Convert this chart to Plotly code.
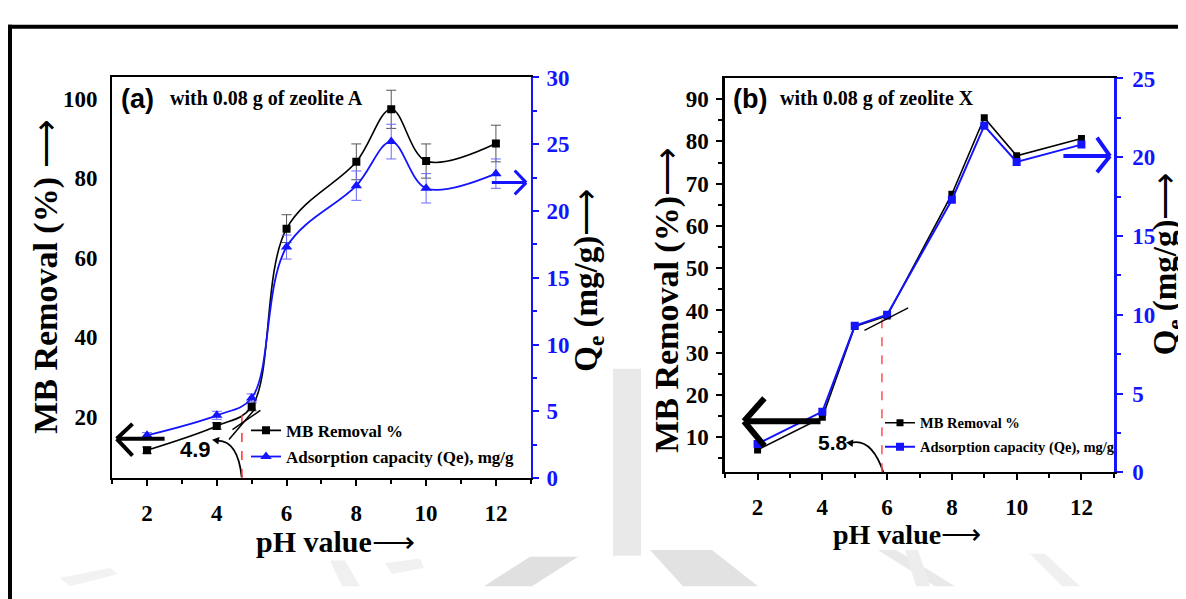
import plotly.graph_objects as go

W, H = 1186, 599
OFF = 8  # the page body places the figure 8px from the top-left corner


def px(x):
    return (x - OFF) / W


def py(y):
    return 1 - (y - OFF) / H


# ---------------- data ----------------
pH = [2, 4, 5, 6, 8, 9, 10, 12]
# panel (a) zeolite A
mb_a = [11.6, 17.7, 22.5, 67.3, 84.1, 97.3, 84.3, 88.7]
mb_a_err = [0.8, 0.8, 1.0, 3.5, 4.5, 4.8, 4.3, 4.6]
qe_a = [3.2, 4.7, 6.0, 17.3, 21.9, 25.2, 21.7, 22.8]
qe_a_err = [0.2, 0.3, 0.3, 0.9, 1.1, 1.3, 1.1, 1.1]
# panel (b) zeolite X
mb_b = [7.0, 14.7, 36.2, 38.7, 67.5, 85.6, 76.6, 80.7]
qe_b = [1.8, 3.85, 9.3, 10.0, 17.3, 22.0, 19.7, 20.8]

pzc_a, pzc_a_label = 4.72, "4.9"
pzc_b, pzc_b_label = 5.84, "5.8"

x_ticks = [2, 4, 6, 8, 10, 12]
mb_a_ticks = [20, 40, 60, 80, 100]
mb_b_ticks = [10, 20, 30, 40, 50, 60, 70, 80, 90]

BLUE = "#1414ff"
SERIF = "Liberation Serif"
SANS = "Liberation Sans"
ARROW = "<span style='font-weight:normal'>\u27f6</span>"

fig = go.Figure()

fig.add_trace(go.Scatter(
    x=pH, y=mb_a, name="MB Removal %", mode="lines+markers",
    line=dict(color="black", width=1.6, shape="spline", smoothing=1.0),
    marker=dict(symbol="square", size=8, color="black"),
    error_y=dict(type="data", array=mb_a_err, color="#555555", thickness=1, width=5),
    xaxis="x", yaxis="y", legend="legend", showlegend=True))
fig.add_trace(go.Scatter(
    x=pH, y=qe_a, name="Adsorption capacity (Qe), mg/g", mode="lines+markers",
    line=dict(color=BLUE, width=1.8, shape="spline", smoothing=1.0),
    marker=dict(symbol="triangle-up", size=10, color=BLUE),
    error_y=dict(type="data", array=qe_a_err, color="#6a6aff", thickness=1, width=5),
    xaxis="x", yaxis="y2", legend="legend2", showlegend=True))
fig.add_trace(go.Scatter(
    x=pH, y=mb_b, name="MB Removal %", mode="lines+markers",
    line=dict(color="black", width=1.6),
    marker=dict(symbol="square", size=7, color="black"),
    xaxis="x2", yaxis="y3", legend="legend3", showlegend=True))
fig.add_trace(go.Scatter(
    x=pH, y=qe_b, name="Adsorption capacity (Qe), mg/g", mode="lines+markers",
    line=dict(color=BLUE, width=2),
    marker=dict(symbol="square", size=8, color=BLUE),
    xaxis="x2", yaxis="y4", legend="legend4", showlegend=True))

tickfont = dict(family=SERIF, size=23, color="black", weight="bold")
btickfont = dict(family=SERIF, size=23, color=BLUE, weight="bold")

dom_a_x = [px(112.1), px(530.8)]
dom_a_y = [py(486), py(68)]
dom_b_x = [px(725.2), px(1113.8)]
dom_b_y = [py(480), py(69)]

common_x = dict(range=[1, 13], tickvals=x_ticks, ticks="outside", ticklen=6, tickwidth=1.5,
                tickcolor="black", showline=True, linecolor="black", linewidth=2,
                mirror=True, showgrid=False, zeroline=False, tickfont=tickfont,
                minor=dict(dtick=1, ticks="outside", ticklen=4, tickcolor="black"),
                ticklabelstandoff=7)

fig.update_layout(
    width=W, height=H, autosize=False, showlegend=True,
    margin=dict(l=0, r=0, t=0, b=0),
    paper_bgcolor="white", plot_bgcolor="rgba(0,0,0,0)",
    xaxis=dict(domain=dom_a_x, anchor="y", **common_x),
    yaxis=dict(domain=dom_a_y, anchor="x", range=[4.6, 105.3], tickvals=mb_a_ticks,
               ticks="", showline=True, linecolor="black", linewidth=2,
               showgrid=False, zeroline=False, tickfont=tickfont, ticklabelstandoff=8),
    yaxis5=dict(overlaying="y", anchor="x", side="left", range=[0, 119.4], dtick=10,
                ticks="outside", ticklen=5, tickcolor="black", showticklabels=False,
                showline=False, showgrid=False, zeroline=False),
    yaxis2=dict(overlaying="y", anchor="x", side="right", range=[0, 30], dtick=5,
                ticks="outside", ticklen=6, tickwidth=1.5, tickcolor=BLUE,
                minor=dict(dtick=2.5, ticks="outside", ticklen=4, tickcolor=BLUE),
                showline=True, linecolor=BLUE, linewidth=2.2, showgrid=False,
                zeroline=False, tickfont=btickfont, ticklabelstandoff=3),
    xaxis2=dict(domain=dom_b_x, anchor="y3", **common_x),
    yaxis3=dict(domain=dom_b_y, anchor="x2", range=[1.7, 94.9], tickvals=mb_b_ticks,
                ticks="outside", ticklen=6, tickwidth=1.5, tickcolor="black",
                minor=dict(dtick=5, ticks="outside", ticklen=4, tickcolor="black"),
                showline=True, linecolor="black", linewidth=2.5, showgrid=False,
                zeroline=False, tickfont=tickfont, ticklabelstandoff=3),
    yaxis4=dict(overlaying="y3", anchor="x2", side="right", range=[0, 25], dtick=5,
                ticks="outside", ticklen=6, tickwidth=1.5, tickcolor=BLUE,
                minor=dict(dtick=2.5, ticks="outside", ticklen=4, tickcolor=BLUE),
                showline=True, linecolor=BLUE, linewidth=2.5, showgrid=False,
                zeroline=False, tickfont=btickfont, ticklabelstandoff=5),
)

leg_font_a = dict(family=SERIF, size=17, color="black", weight="bold")
leg_font_b = dict(family=SERIF, size=14.5, color="black", weight="bold")
common_leg = dict(xanchor="left", yanchor="middle", bgcolor="rgba(0,0,0,0)",
                  borderwidth=0, itemwidth=30, visible=True)
fig.update_layout(
    legend=dict(x=px(246), y=py(436.7), font=leg_font_a, **common_leg),
    legend2=dict(x=px(246), y=py(464), font=leg_font_a, **common_leg),
    legend3=dict(x=px(880), y=py(428.3), font=leg_font_b, **common_leg),
    legend4=dict(x=px(880), y=py(453.3), font=leg_font_b, **common_leg),
)

# ---------------- annotations ----------------
ann = []


def text(t, x, y, size, family=SERIF, angle=0, xanchor="center", color="black", bold=True):
    ann.append(dict(text=t, x=px(x), y=py(y), xref="paper", yref="paper", showarrow=False,
                    xanchor=xanchor, yanchor="middle", textangle=angle,
                    font=dict(family=family, size=size, color=color,
                              weight="bold" if bold else "normal")))


text("(a)", 137, 90, 27, family=SANS)
text("with 0.08 g of zeolite A", 168, 90, 20, xanchor="left")
text("(b)", 749.5, 90, 27, family=SANS)
text("with 0.08 g of zeolite X", 777.5, 90, 20, xanchor="left")
text(pzc_a_label, 195, 456.7, 22, family=SANS)
text(pzc_b_label, 832.6, 449.3, 21, family=SANS)

text("MB Removal (%) " + ARROW, 46, 276, 34, angle=-90)
text("Q<sub>e</sub> (mg/g)" + ARROW, 589, 280, 33, angle=-90)
text("pH value" + ARROW, 335, 552, 30)
text("MB Removal (%)" + ARROW, 667, 300, 34, angle=-90)
text("Q<sub>e</sub> (mg/g)" + ARROW, 1167, 263, 33, angle=-90)
text("pH value" + ARROW, 907, 545, 28)

fig.update_layout(annotations=ann)

# ---------------- shapes ----------------
shapes = []


def pline(x0, y0, x1, y1, color="black", width=2, dash="solid", layer="above"):
    shapes.append(dict(type="line", xref="paper", yref="paper",
                       x0=px(x0), y0=py(y0), x1=px(x1), y1=py(y1),
                       line=dict(color=color, width=width, dash=dash), layer=layer))


def poly(points, color, layer="below"):
    d = "M " + " L ".join(f"{px(a):.5f},{py(b):.5f}" for a, b in points) + " Z"
    shapes.append(dict(type="path", xref="paper", yref="paper", path=d,
                       fillcolor=color, line=dict(width=0), layer=layer))


def curve(p0, c, p1, color="black", width=1.8):
    d = (f"M {px(p0[0]):.5f},{py(p0[1]):.5f} Q {px(c[0]):.5f},{py(c[1]):.5f} "
         f"{px(p1[0]):.5f},{py(p1[1]):.5f}")
    shapes.append(dict(type="path", xref="paper", yref="paper", path=d,
                       line=dict(color=color, width=width)))


def head(tip, direction, length=8, half=4, color="black"):
    dx, dy = direction
    n = (dx * dx + dy * dy) ** 0.5
    dx, dy = dx / n, dy / n
    bx, by = tip[0] - length * dx, tip[1] - length * dy
    nx, ny = -dy, dx
    poly([tip, (bx + half * nx, by + half * ny), (bx - half * nx, by - half * ny)],
         color, layer="above")


def dline(xref, yref, x0, y0, x1, y1, color="black", width=1.5, dash="solid"):
    shapes.append(dict(type="line", xref=xref, yref=yref, x0=x0, y0=y0, x1=x1, y1=y1,
                       line=dict(color=color, width=width, dash=dash)))


# watermark (light gray strokes in background)
poly([(613, 372), (641, 372), (641, 567), (613, 567)], "#e9e9e9")
poly([(530, 568), (578, 568), (532, 599), (484, 599)], "#e0e0e0")
poly([(650, 561), (712, 561), (758, 599), (683, 599)], "#e2e2e2")
poly([(878, 561), (896, 561), (955, 599), (935, 599)], "#e9e9e9")
poly([(905, 561), (918, 561), (930, 599), (916, 599)], "#ededed")
poly([(330, 572), (345, 572), (360, 599), (342, 599)], "#f0f0f0")
poly([(385, 575), (420, 570), (424, 580), (392, 586)], "#f1f1f1")
poly([(60, 590), (110, 580), (118, 586), (70, 599)], "#f2f2f2")
poly([(1030, 565), (1045, 565), (1080, 599), (1062, 599)], "#f0f0f0")

# outer frame
pline(8, 15, 1200, 15, width=4)
pline(10, 13, 10, 620, width=4)

# big direction arrows
pline(116.7, 445, 164.6, 445, width=4)
pline(116.7, 445, 132.5, 429.5, width=4)
pline(116.7, 445, 132.5, 462.5, width=4)
pline(491.8, 177.7, 525.5, 177.7, color=BLUE, width=3)
pline(526.2, 177.7, 514.7, 165, color=BLUE, width=3)
pline(526.2, 177.7, 514.7, 190, color=BLUE, width=3)

pline(744, 426.7, 820.5, 426.7, width=6)
pline(744, 426.7, 764.4, 402.7, width=6)
pline(744, 426.7, 764.4, 452.5, width=6)
pline(1063.4, 150, 1108, 150, color=BLUE, width=4)
pline(1110, 150, 1097, 130.7, color=BLUE, width=4)
pline(1110, 150, 1097, 167, color=BLUE, width=4)

# curved arrows to the pH(pzc) labels
curve((241.7, 485), (237.8, 447.4), (218, 447))
head((212, 446), (-1, -0.15), length=7, half=4)
curve((883.3, 480), (872, 445), (852, 449))
head((846, 449), (-1, -0.1), length=7, half=4)

# red dashed pzc lines
dline("x", "y", pzc_a, 4.6, pzc_a, 22.5, color="#ff3030", width=1.5, dash="dash")
dline("x2", "y3", pzc_b, 1.7, pzc_b, 39.1, color="#ff5050", width=1.5, dash="dash")

# tangent lines
dline("x", "y", 4.35, 14.3, 5.1, 22.0, width=1.5)
dline("x", "y", 4.45, 16.8, 5.25, 21.6, width=1.5)
dline("x2", "y3", 5.3, 35.3, 6.65, 40.6, width=1.3)

fig.update_layout(shapes=shapes)

fig.write_html("out.html")
